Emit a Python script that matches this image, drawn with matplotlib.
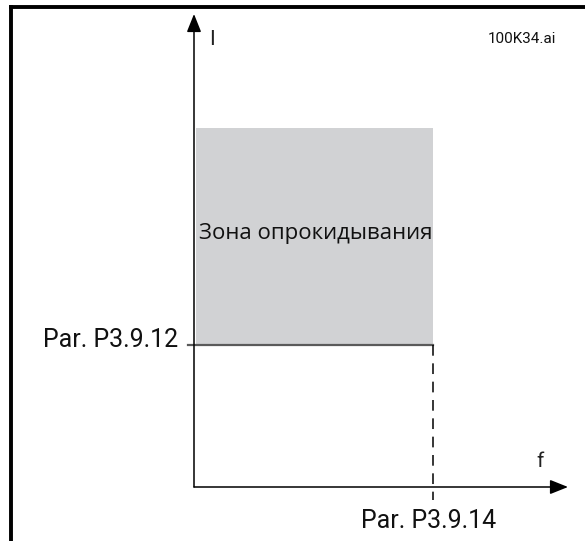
import matplotlib.pyplot as plt
from matplotlib.lines import Line2D

plt.rcParams['font.family'] = ['Roboto', 'DejaVu Sans']

# chart values (relative units along the f and I axes)
f_max = 100
i_max = 100
f_limit = 64      # Par. P3.9.14
i_stall = 30      # Par. P3.9.12
i_zone_top = 76   # upper edge of the stall zone

zone_label = "Зона опрокидывания"
i_label = "Par. P3.9.12"
f_label = "Par. P3.9.14"
file_tag = "100K34.ai"

fig = plt.figure(figsize=(5.85, 5.41), dpi=100)

# outer frame: top and left edges only
fx, fy = 11 / 585, 1 - 7 / 541
fig.add_artist(Line2D([fx, 1], [fy, fy], transform=fig.transFigure,
                      color="black", lw=2.8, solid_capstyle="projecting"))
fig.add_artist(Line2D([fx, fx], [0, fy], transform=fig.transFigure,
                      color="black", lw=2.8, solid_capstyle="projecting"))

# axes area: origin at (194, 487) px, tips at x=568, y=14
left, bottom = 194 / 585, (541 - 487) / 541
width, height = (568 - 194) / 585, (487 - 14) / 541
ax = fig.add_axes([left, bottom, width, height])
ax.set_xlim(0, f_max)
ax.set_ylim(0, i_max)
ax.axis("off")

# stall zone
ax.fill_between([0.5, f_limit], i_stall, i_zone_top, color="#d1d2d4", lw=0)
ax.plot([-1.6, f_limit], [i_stall, i_stall], color="#5a5a5a", lw=1.6,
        clip_on=False)
ax.plot([f_limit, f_limit], [i_stall, -2.8], color="black", lw=1.1,
        ls=(0, (7, 5)), clip_on=False)

# axes arrows
arrow = dict(arrowstyle="-|>,head_length=0.55,head_width=0.22",
             mutation_scale=20, color="black", lw=1.1,
             shrinkA=0, shrinkB=0)
ax.annotate("", xy=(f_max, 0), xytext=(0, 0), arrowprops=arrow,
            annotation_clip=False)
ax.annotate("", xy=(0, i_max), xytext=(0, 0), arrowprops=arrow,
            annotation_clip=False)

# labels
ax.text(4.7, 94.6, "I", fontsize=15, ha="center", va="center",
        color="#222222")
ax.text(92.4, 5.3, "f", fontsize=15, ha="center", va="center",
        color="#222222")
ax.text(f_limit / 2 + 0.5, 53.5, zone_label, fontsize=16, ha="center",
        va="center", color="#111111",
        family=["Open Sans", "DejaVu Sans"])
ax.text(-4.3, 31, i_label, fontsize=18, ha="right", va="center",
        color="#111111")
ax.text(62.8, -7.2, f_label, fontsize=18, ha="center", va="center",
        color="#111111")
ax.text(87.6, 94.8, file_tag, fontsize=11, ha="center", va="center",
        color="#111111")

fig.savefig("out.png", dpi=100)
